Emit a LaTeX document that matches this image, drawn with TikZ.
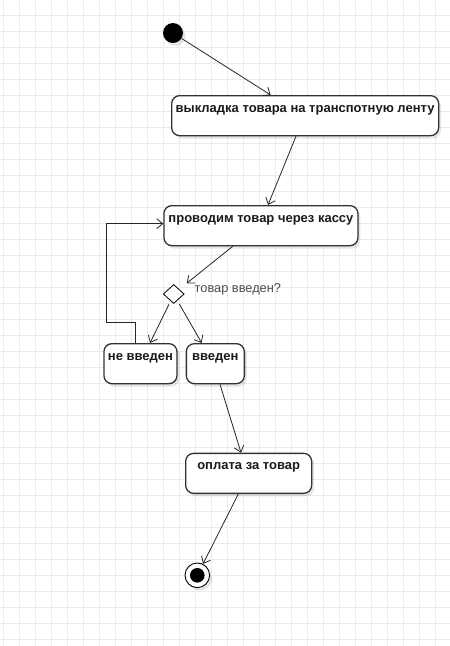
\documentclass[tikz,border=0pt]{standalone}
\usepackage{fontspec}
\setmainfont{Liberation Sans}
\usetikzlibrary{arrows.meta,shapes.geometric,shadows}
\definecolor{gridc}{HTML}{EBEBEB}
\definecolor{edgec}{HTML}{333333}
\definecolor{txtc}{HTML}{1A1A1A}
\definecolor{lblc}{HTML}{4D4D4D}
\tikzset{
  shd/.style={drop shadow={shadow xshift=2.5pt,shadow yshift=-3pt,fill=black,opacity=0.10}},
  act/.style={draw=edgec,line width=1.3pt,rounded corners=8pt,fill=white,shd,
    inner xsep=0pt,inner ysep=0pt,text height=16.5pt,text depth=23.5pt,
    font=\bfseries\fontsize{13}{15}\selectfont,text=txtc,anchor=north west},
  flow/.style={draw=black!85,line width=0.8pt,-{Straight Barb[length=6pt,width=10pt,line width=0.8pt]}},
  startdot/.style={circle,fill=black,minimum size=20pt,inner sep=0pt,shd},
  enddot/.style={circle,draw=black,line width=0.9pt,fill=white,minimum size=24.6pt,inner sep=0pt,shd},
  enddotin/.style={circle,fill=black,minimum size=14.6pt,inner sep=0pt},
  decision/.style={diamond,draw=black,line width=0.8pt,fill=white,minimum width=21pt,minimum height=19pt,inner sep=0pt,aspect=1.1},
  lbl/.style={font=\fontsize{12.8}{15}\selectfont,text=lblc,anchor=west,inner sep=0pt}
}
\begin{document}
\begin{tikzpicture}[x=1pt,y=-1pt]
\useasboundingbox (0,0) rectangle (450,646);
\fill[white] (0,0) rectangle (450,646);
\foreach \gx in {3.3,19.3,...,450} \draw[gridc,line width=1pt] (\gx,0) -- (\gx,646);
\foreach \gy in {-1,15,...,646} \draw[gridc,line width=1pt] (0,\gy) -- (450,\gy);

\node[startdot] (start) at (173,33) {};
\node[act,minimum width=267pt,minimum height=40pt] (load) at (171,95) {выкладка товара на транспотную ленту};
\node[act,minimum width=194pt,minimum height=39pt] (scan) at (163.3,205) {проводим товар через кассу};
\node[decision] (dec) at (173.7,294) {};
\node[lbl] (declbl) at (194.5,289.5) {товар введен?};
\node[act,minimum width=73pt,minimum height=40pt] (notin) at (103.3,343) {не введен};
\node[act,minimum width=58pt,minimum height=40pt] (in) at (185.7,343) {введен};
\node[act,minimum width=126pt,minimum height=40pt] (pay) at (185,452.7) {оплата за товар};
\node[enddot] (final) at (197.3,575.3) {};
\node[enddotin] (finalin) at (final) {};

\coordinate (loopc) at (106.7,322.7);

\draw[flow] (start) -- ([shift={(99.7,0)}]load.north west);
\draw[flow] ([shift={(125,0)}]load.south west) -- ([shift={(104.7,0)}]scan.north west);
\draw[flow] ([shift={(69.4,0)}]scan.south west) -- ([shift={(13,-10.7)}]dec.center);
\draw[flow] ([shift={(-4.7,10.3)}]dec.center) -- ([shift={(46.7,0)}]notin.north west);
\draw[flow] ([shift={(5.6,10)}]dec.center) -- ([shift={(16,0)}]in.north west);
\draw[flow] ([shift={(31.7,0)}]notin.north west) |- (loopc) |- ([shift={(0,-2)}]scan.west);
\draw[flow] ([shift={(34.3,0)}]in.south west) -- ([shift={(56,0)}]pay.north west);
\draw[flow] ([shift={(53.3,0)}]pay.south west) -- (final);
\end{tikzpicture}
\end{document}
